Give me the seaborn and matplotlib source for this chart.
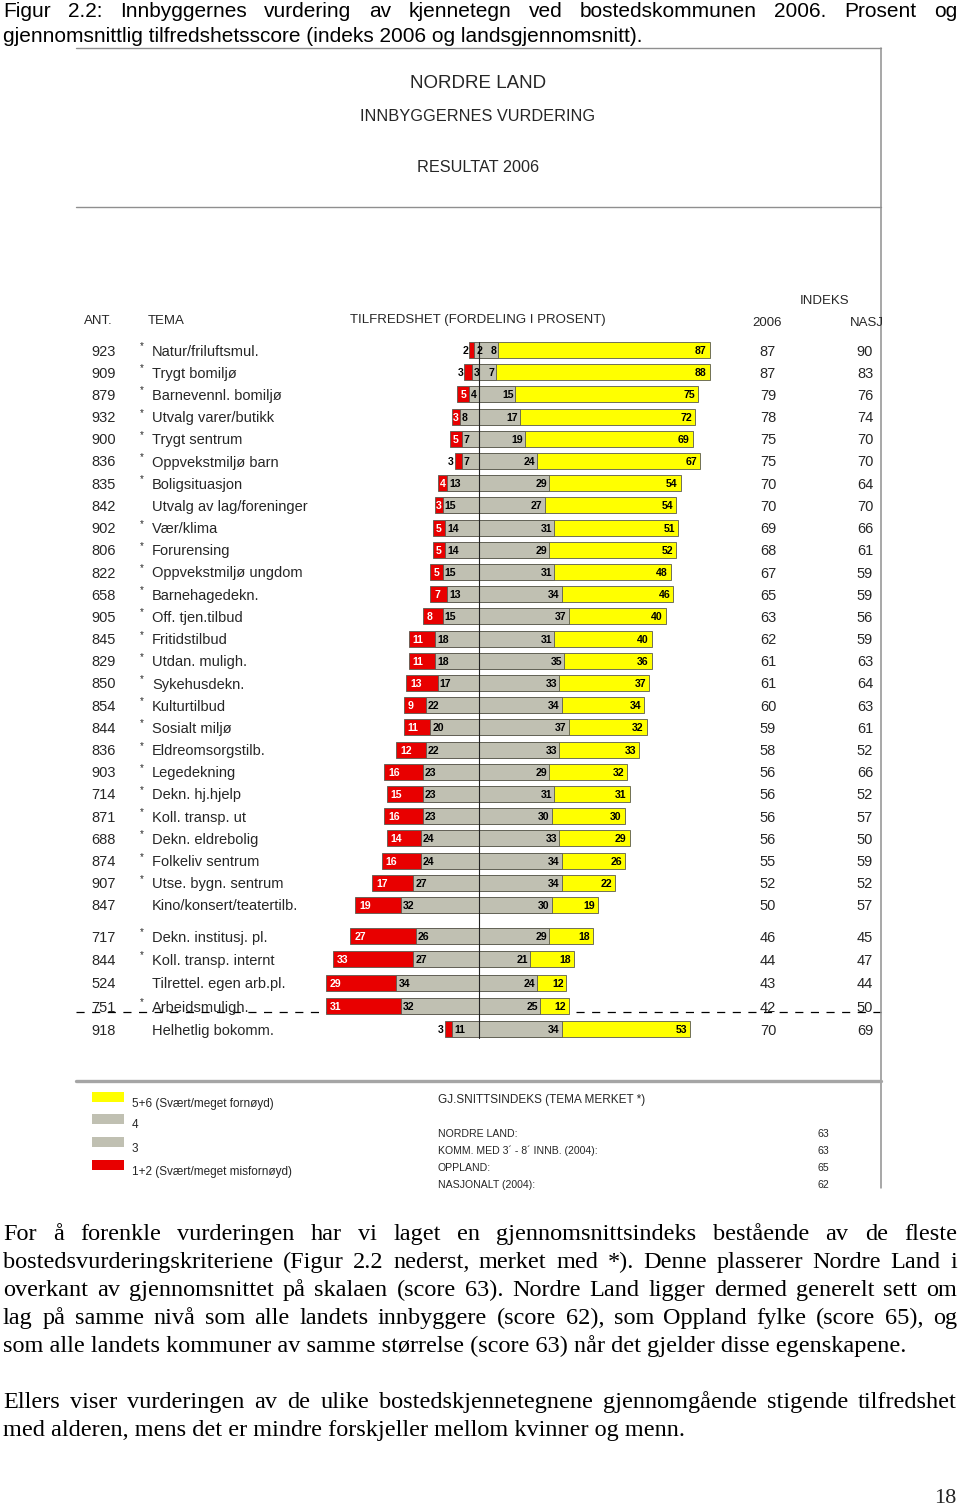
import numpy as np
import pandas as pd
import matplotlib
matplotlib.use("Agg")
import matplotlib.pyplot as plt
import matplotlib.transforms as mtransforms
from matplotlib.lines import Line2D
from matplotlib.patches import Rectangle
import seaborn as sns

# ---------------- data ----------------
ant = [923, 909, 879, 932, 900, 836, 835, 842, 902, 806, 822, 658, 905, 845, 829, 850,
       854, 844, 836, 903, 714, 871, 688, 874, 907, 847, 717, 844, 524, 751, 918]
star = [1, 1, 1, 1, 1, 1, 1, 0, 1, 1, 1, 1, 1, 1, 1, 1,
        1, 1, 1, 1, 1, 1, 1, 1, 1, 0, 1, 1, 0, 1, 0]
tema = ["Natur/friluftsmul.", "Trygt bomiljø", "Barnevennl. bomiljø", "Utvalg varer/butikk",
        "Trygt sentrum", "Oppvekstmiljø barn", "Boligsituasjon", "Utvalg av lag/foreninger",
        "Vær/klima", "Forurensing", "Oppvekstmiljø ungdom", "Barnehagedekn.",
        "Off. tjen.tilbud", "Fritidstilbud", "Utdan. muligh.", "Sykehusdekn.",
        "Kulturtilbud", "Sosialt miljø", "Eldreomsorgstilb.", "Legedekning",
        "Dekn. hj.hjelp", "Koll. transp. ut", "Dekn. eldrebolig", "Folkeliv sentrum",
        "Utse. bygn. sentrum", "Kino/konsert/teatertilb.", "Dekn. institusj. pl.",
        "Koll. transp. internt", "Tilrettel. egen arb.pl.", "Arbeidsmuligh.", "Helhetlig bokomm."]
pct_12 = [2, 3, 5, 3, 5, 3, 4, 3, 5, 5, 5, 7, 8, 11, 11, 13, 9, 11, 12, 16, 15, 16, 14, 16,
          17, 19, 27, 33, 29, 31, 3]
pct_3 = [2, 3, 4, 8, 7, 7, 13, 15, 14, 14, 15, 13, 15, 18, 18, 17, 22, 20, 22, 23, 23, 23,
         24, 24, 27, 32, 26, 27, 34, 32, 11]
pct_4 = [8, 7, 15, 17, 19, 24, 29, 27, 31, 29, 31, 34, 37, 31, 35, 33, 34, 37, 33, 29, 31,
         30, 33, 34, 34, 30, 29, 21, 24, 25, 34]
pct_56 = [87, 88, 75, 72, 69, 67, 54, 54, 51, 52, 48, 46, 40, 40, 36, 37, 34, 32, 33, 32,
          31, 30, 29, 26, 22, 19, 18, 18, 12, 12, 53]
indeks_2006 = [87, 87, 79, 78, 75, 75, 70, 70, 69, 68, 67, 65, 63, 62, 61, 61, 60, 59, 58,
               56, 56, 56, 56, 55, 52, 50, 46, 44, 43, 42, 70]
indeks_nasj = [90, 83, 76, 74, 70, 70, 64, 70, 66, 61, 59, 59, 56, 59, 63, 64, 63, 61, 52,
               66, 52, 57, 50, 59, 52, 57, 45, 47, 44, 50, 69]
legend_labels = ["5+6 (Svært/meget fornøyd)", "4", "3", "1+2 (Svært/meget misfornøyd)"]
snitt_labels = ["NORDRE LAND:", "KOMM. MED 3´ - 8´ INNB. (2004):", "OPPLAND:", "NASJONALT (2004):"]
snitt_values = [63, 63, 65, 62]
red_label_outside = [0, 1, 5, 30]

# ---------------- style ----------------
sns.set_theme(style="white")
plt.rcParams["font.family"] = ["Liberation Sans", "DejaVu Sans"]

YELLOW = "#FFFF00"
GRAY = "#C0C0B2"
RED = "#E80000"
EDGE = "#5a5a50"
PANEL = "#8f8f8f"
VA = "center_baseline"

W, H = 960, 1505
fig = plt.figure(figsize=(W / 100, H / 100), dpi=100)
fig.patch.set_facecolor("white")


def fx(x):
    return x / W


def fy(y):
    return 1 - y / H


def ftext(x, y, s, **kw):
    return fig.text(fx(x), fy(y), s, **kw)


def fline(xs, ys, **kw):
    fig.add_artist(Line2D([fx(v) for v in xs], [fy(v) for v in ys],
                          transform=fig.transFigure, **kw))


renderer = fig.canvas.get_renderer()


def text_width(s, size, family, weight="normal"):
    t = fig.text(0, 0, s, fontsize=size, family=family, weight=weight)
    w = t.get_window_extent(renderer).width
    t.remove()
    return w


def paragraph(lines, x0, x1, y0, dy, family, size, justify_last=False):
    target = x1 - x0
    while max(text_width(l, size, family) for l in lines) > target - 4:
        size -= 0.25
    for k, line in enumerate(lines):
        y = y0 + k * dy
        words = line.split(" ")
        if (k == len(lines) - 1 and not justify_last) or len(words) == 1:
            ftext(x0, y, line, fontsize=size, family=family, va="baseline", ha="left",
                  color="black")
            continue
        widths = [text_width(w, size, family) for w in words]
        gap = (target - sum(widths)) / (len(words) - 1)
        x = x0
        for w, wd in zip(words, widths):
            ftext(x, y, w, fontsize=size, family=family, va="baseline", ha="left",
                  color="black")
            x += wd + gap


# ---------------- caption ----------------
caption = ["Figur 2.2: Innbyggernes vurdering av kjennetegn ved bostedskommunen 2006. Prosent og",
           "gjennomsnittlig tilfredshetsscore (indeks 2006 og landsgjennomsnitt)."]
paragraph(caption, 3, 957, 17, 25, ["Liberation Sans", "DejaVu Sans"], 15)

# ---------------- panel frame ----------------
fline([76, 881], [48, 48], color=PANEL, lw=1.0)
fline([881, 881], [48, 1188], color=PANEL, lw=1.1)
fline([76, 881], [207, 207], color=PANEL, lw=1.0)
fline([76, 881], [1081, 1081], color="#a5a5a5", lw=2.4)

ftext(478, 82, "NORDRE LAND", fontsize=13.5, ha="center", va=VA)
ftext(478, 115, "INNBYGGERNES VURDERING", fontsize=11.8, ha="center", va=VA)
ftext(478, 166, "RESULTAT 2006", fontsize=11.7, ha="center", va=VA)

ftext(84, 319, "ANT.", fontsize=9.5, ha="left", va=VA)
ftext(148, 319, "TEMA", fontsize=9.5, ha="left", va=VA)
ftext(478, 319, "TILFREDSHET (FORDELING I PROSENT)", fontsize=9.5, ha="center", va=VA)
ftext(825, 299, "INDEKS", fontsize=9.5, ha="center", va=VA)
ftext(767, 322, "2006", fontsize=9.5, ha="center", va=VA)
ftext(850, 322, "NASJ", fontsize=9.5, ha="left", va=VA)

# ---------------- bars ----------------
CENTER_PX, PX_PER_PCT = 479, 2.43
ROW0_PX, ROW_PX = 350, 22.2
AX_TOP, AX_BOT = 330, 1045
ax = fig.add_axes([0, fy(AX_BOT), 1, (AX_BOT - AX_TOP) / H])
ax.set_facecolor("none")
trans = mtransforms.blended_transform_factory(fig.transFigure, ax.transData)

n = len(tema)
pos = [i if i <= 25 else i + 0.4 + 0.05 * (i - 26) for i in range(n)]

# dashed separator (behind the bars)
ax.plot([fx(76), fx(881)], [(1012 - ROW0_PX) / ROW_PX] * 2, transform=trans, color="black",
        lw=0.9, linestyle=(0, (6.5, 6)), zorder=0)

df = pd.DataFrame({
    "pos": pos,
    "left_outer": [-(a + b) for a, b in zip(pct_12, pct_3)],
    "left_inner": [-b for b in pct_3],
    "right_inner": pct_4,
    "right_outer": [a + b for a, b in zip(pct_4, pct_56)],
})

bar_kw = dict(y="pos", orient="h", native_scale=True, width=0.72, edgecolor=EDGE,
              linewidth=0.6, errorbar=None, saturation=1, ax=ax, zorder=2)
sns.barplot(data=df, x="right_outer", color=YELLOW, **bar_kw)
sns.barplot(data=df, x="right_inner", color=GRAY, **bar_kw)
sns.barplot(data=df, x="left_outer", color=RED, **bar_kw)
sns.barplot(data=df, x="left_inner", color=GRAY, **bar_kw)

ax.plot([0, 0], [pos[0] - 0.38, pos[-1] + 0.38], color="#222222", lw=0.8, zorder=5)

PT = 0.72  # points per pixel
lab_kw = dict(fontsize=7.6, fontweight="bold", va=VA, textcoords="offset points",
              zorder=6)
for i in range(n):
    p = pos[i]
    ax.annotate(str(pct_56[i]), (df.right_outer[i], p), xytext=(-3 * PT, 0), ha="right",
                color="black", **lab_kw)
    ax.annotate(str(pct_4[i]), (df.right_inner[i], p), xytext=(-2 * PT, 0), ha="right",
                color="black", **lab_kw)
    ax.annotate(str(pct_3[i]), (df.left_inner[i], p), xytext=(2 * PT, 0), ha="left",
                color="black", **lab_kw)
    if i in red_label_outside:
        ax.annotate(str(pct_12[i]), (df.left_outer[i], p), xytext=(-1 * PT, 0), ha="right",
                    color="black", **lab_kw)
    elif pct_12[i] <= 5:
        ax.annotate(str(pct_12[i]), (df.left_outer[i] + pct_12[i] / 2, p), xytext=(0, 0),
                    ha="center", color="white", **lab_kw)
    else:
        ax.annotate(str(pct_12[i]), (df.left_outer[i], p), xytext=(4 * PT, 0), ha="left",
                    color="white", **lab_kw)

ax.set_xlim(-CENTER_PX / PX_PER_PCT, (W - CENTER_PX) / PX_PER_PCT)
ax.set_ylim((AX_BOT - ROW0_PX) / ROW_PX, (AX_TOP - ROW0_PX) / ROW_PX)
ax.axis("off")

# row texts
for i in range(n):
    p = pos[i]
    ax.text(fx(116), p, str(ant[i]), transform=trans, fontsize=10.5, ha="right", va=VA)
    if star[i]:
        ax.text(fx(141.5), p - 0.22, "*", transform=trans, fontsize=7, ha="center", va=VA)
    ax.text(fx(152), p, tema[i], transform=trans, fontsize=10.5, ha="left", va=VA)
    ax.text(fx(768), p, str(indeks_2006[i]), transform=trans, fontsize=10.5, ha="center",
            va=VA)
    ax.text(fx(865), p, str(indeks_nasj[i]), transform=trans, fontsize=10.5, ha="center",
            va=VA)

# ---------------- legend ----------------
leg_colors = [YELLOW, GRAY, GRAY, RED]
leg_box_y = [1097, 1119, 1142, 1165]
leg_text_y = [1102, 1124, 1147, 1170]
for c, by, ty, lab in zip(leg_colors, leg_box_y, leg_text_y, legend_labels):
    fig.add_artist(Rectangle((fx(92), fy(by + 5)), 32 / W, 10 / H, transform=fig.transFigure,
                             facecolor=c, edgecolor="none"))
    ftext(132, ty, lab, fontsize=8.5, ha="left", va=VA)

ftext(438, 1099, "GJ.SNITTSINDEKS (TEMA MERKET *)", fontsize=8.5, ha="left", va=VA)
for k, (lab, val) in enumerate(zip(snitt_labels, snitt_values)):
    y = 1133 + 17 * k
    ftext(438, y, lab, fontsize=7.6, ha="left", va=VA)
    ftext(829, y, str(val), fontsize=7.6, ha="right", va=VA)

# ---------------- body text ----------------
serif = ["Liberation Serif", "DejaVu Serif"]
para1 = ["For å forenkle vurderingen har vi laget en gjennomsnittsindeks bestående av de fleste",
         "bostedsvurderingskriteriene (Figur 2.2 nederst, merket med *). Denne plasserer Nordre Land i",
         "overkant av gjennomsnittet på skalaen (score 63). Nordre Land ligger dermed generelt sett om",
         "lag på samme nivå som alle landets innbyggere (score 62), som Oppland fylke (score 65), og",
         "som alle landets kommuner av samme størrelse (score 63) når det gjelder disse egenskapene."]
para2 = ["Ellers viser vurderingen av de ulike bostedskjennetegnene gjennomgående stigende tilfredshet",
         "med alderen, mens det er mindre forskjeller mellom kvinner og menn."]
paragraph(para1, 3, 957, 1240, 28, serif, 17.5)
paragraph(para2, 3, 957, 1408, 28, serif, 17.5)
ftext(956, 1503, "18", fontsize=16, family=serif, ha="right", va="baseline")

fig.savefig("out.png", dpi=100, facecolor="white")
